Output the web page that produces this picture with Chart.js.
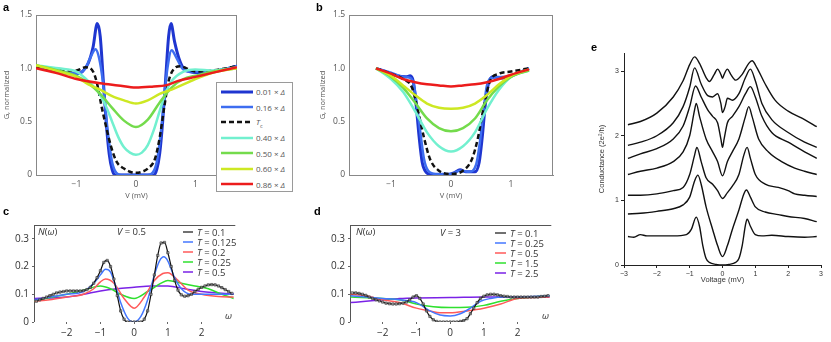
<!DOCTYPE html>
<html>
<head>
<meta charset="UTF-8">
<title>Tunnelling conductance panels</title>
<script src="https://cdn.jsdelivr.net/npm/chart.js@4.4.1/dist/chart.umd.min.js"></script>
<style>
  body { margin: 0; background: #fff; }
  #fig { position: relative; width: 831px; height: 342px; overflow: hidden; font-family: "Open Sans", "Noto Sans", sans-serif; }
  #fig canvas { position: absolute; }
  .tag { position: absolute; font: bold 11px "Liberation Sans", Arial, sans-serif; color: #000; }
  .note { position: absolute; font-size: 9.5px; color: #333; white-space: nowrap; line-height: 10px; }
  .legend { position: absolute; white-space: nowrap; }
  .legend .row { display: flex; align-items: center; }
  .legend svg { flex: none; }
  #legA { left: 216px; top: 82px; width: 75px; height: 107px; border: 1px solid #9a9a9a; background: #fff;
          padding-top: 1px; box-sizing: content-box; font-size: 8px; color: #555; z-index: 2; }
  #legA .row { height: 15.4px; padding-left: 4px; }
  #legA svg { margin-right: 3px; }
  #legC, #legD { font-size: 9.5px; color: #333; }
  #legC .row, #legD .row { height: 10px; }
  #legC svg, #legD svg { margin-right: 4px; }
</style>
</head>
<body>
<div id="fig">
  <canvas id="chartA" width="240" height="200" style="left:0;top:0"></canvas>
  <canvas id="chartB" width="240" height="200" style="left:316px;top:0"></canvas>
  <canvas id="chartC" width="240" height="127" style="left:0;top:215px"></canvas>
  <canvas id="chartD" width="240" height="127" style="left:316px;top:215px"></canvas>
  <canvas id="chartE" width="234" height="244" style="left:595px;top:40px"></canvas>

  <div class="tag" style="left:3px;top:1px">a</div>
  <div class="tag" style="left:316px;top:1px">b</div>
  <div class="tag" style="left:3px;top:205px">c</div>
  <div class="tag" style="left:314px;top:205px">d</div>
  <div class="tag" style="left:591px;top:41px">e</div>

  <div id="legA" class="legend"></div>
  <div id="legC" class="legend" style="left:183px;top:227px"></div>
  <div id="legD" class="legend" style="left:495px;top:228px"></div>

  <div class="note" style="left:38px;top:227px"><i>N</i>(<i>ω</i>)</div>
  <div class="note" style="left:117px;top:227px"><i>V</i> = 0.5</div>
  <div class="note" style="left:225px;top:311px"><i>ω</i></div>
  <div class="note" style="left:356px;top:227px"><i>N</i>(<i>ω</i>)</div>
  <div class="note" style="left:440px;top:228px"><i>V</i> = 3</div>
  <div class="note" style="left:542px;top:311px"><i>ω</i></div>
</div>

<script>
// ---------- panel a : G vs V, first sample ----------
const aLabels = ['0.01 × Δ', '0.16 × Δ', 'T_c', '0.40 × Δ', '0.50 × Δ', '0.60 × Δ', '0.86 × Δ'];
const aV001 = [-1.68,-1.5,-1.3,-1.1,-1.0,-0.9,-0.8,-0.72,-0.65,-0.6,-0.55,-0.5,-0.45,-0.4,-0.35,0,0.3,0.35,0.4,0.45,0.5,0.55,0.59,0.65,0.72,0.8,0.9,1.0,1.2,1.4,1.7];
const aG001 = [1.02,1.0,0.97,0.95,0.95,0.97,1.05,1.2,1.42,1.3,0.9,0.5,0.2,0.05,0.0,0,0,0.05,0.2,0.5,0.9,1.3,1.42,1.25,1.1,1.0,0.97,0.96,0.96,0.98,1.02];
const aV016 = [-1.68,-1.3,-1.0,-0.85,-0.75,-0.68,-0.62,-0.55,-0.5,-0.45,-0.4,-0.33,-0.25,0.2,0.28,0.35,0.42,0.48,0.53,0.6,0.68,0.78,0.9,1.2,1.7];
const aG016 = [1.02,0.97,0.95,1.0,1.12,1.18,1.1,0.85,0.55,0.3,0.12,0.02,0,0,0.02,0.12,0.4,0.75,1.0,1.17,1.1,1.0,0.97,0.97,1.02];
const aVTc = [-1.68,-1.3,-1.0,-0.85,-0.72,-0.65,-0.58,-0.5,-0.42,-0.32,-0.2,-0.1,0,0.1,0.2,0.32,0.4,0.48,0.55,0.65,0.75,0.85,1.0,1.3,1.7];
const aGTc = [1.02,0.98,0.98,1.01,0.97,0.85,0.65,0.45,0.27,0.12,0.06,0.03,0.02,0.03,0.06,0.15,0.35,0.65,0.88,1.0,1.02,1.0,0.97,0.98,1.02];
const aV040 = [-1.68,-1.3,-1.0,-0.8,-0.6,-0.5,-0.4,-0.3,-0.2,-0.1,0,0.1,0.2,0.3,0.4,0.5,0.6,0.8,1.0,1.3,1.7];
const aG040 = [1.03,1.0,0.97,0.88,0.75,0.64,0.5,0.36,0.26,0.21,0.19,0.21,0.28,0.42,0.6,0.77,0.88,0.97,0.99,0.98,1.01];
const aVmid = [-1.68,-1.3,-1.0,-0.8,-0.6,-0.4,-0.2,0,0.2,0.4,0.6,0.8,1.0,1.3,1.7];
const aG050 = [1.03,0.98,0.93,0.86,0.76,0.63,0.51,0.45,0.52,0.68,0.82,0.9,0.93,0.97,1.0];
const aG060 = [1.03,0.97,0.92,0.85,0.8,0.74,0.7,0.67,0.7,0.76,0.8,0.85,0.9,0.96,1.0];
const aV086 = [-1.68,-1.3,-1.0,-0.6,-0.3,0,0.3,0.5,0.7,1.0,1.3,1.7];
const aG086 = [1.0,0.95,0.9,0.86,0.84,0.82,0.83,0.84,0.88,0.92,0.96,1.01];

// ---------- panel b : G vs V, second sample ----------
const bV001 = [-1.25,-1.1,-0.9,-0.75,-0.68,-0.63,-0.58,-0.53,-0.48,-0.42,-0.3,-0.1,0.05,0.15,0.25,0.4,0.47,0.52,0.57,0.62,0.7,0.9,1.1,1.3];
const bG001 = [1.0,0.97,0.93,0.92,0.93,0.88,0.65,0.35,0.12,0.03,0.0,0.0,0.02,0.05,0.03,0.03,0.12,0.35,0.65,0.85,0.92,0.91,0.95,1.0];
const bV016 = [-1.25,-1.0,-0.8,-0.68,-0.62,-0.56,-0.5,-0.45,-0.38,-0.25,0,0.15,0.3,0.42,0.48,0.54,0.6,0.68,0.9,1.1,1.3];
const bG016 = [1.0,0.96,0.92,0.91,0.85,0.62,0.35,0.15,0.04,0.01,0.01,0.04,0.03,0.1,0.3,0.6,0.84,0.91,0.92,0.95,1.0];
const bVTc = [-1.25,-1.0,-0.8,-0.65,-0.55,-0.45,-0.35,-0.2,0,0.2,0.35,0.45,0.55,0.65,0.8,1.0,1.3];
const bGTc = [1.0,0.95,0.9,0.82,0.6,0.35,0.15,0.04,0.01,0.04,0.15,0.35,0.65,0.88,0.95,0.97,1.0];
const bVwarm = [-1.25,-1.0,-0.8,-0.6,-0.4,-0.2,0,0.2,0.4,0.6,0.8,1.0,1.3];
const bG040 = [1.0,0.9,0.78,0.6,0.4,0.27,0.22,0.27,0.4,0.62,0.8,0.92,0.98];
const bG050 = [1.0,0.92,0.82,0.68,0.53,0.44,0.41,0.44,0.53,0.7,0.83,0.92,0.98];
const bG060 = [1.0,0.93,0.84,0.75,0.67,0.63,0.62,0.63,0.67,0.75,0.85,0.93,0.99];
const bG086 = [1.0,0.95,0.9,0.87,0.85,0.84,0.83,0.84,0.85,0.87,0.9,0.94,0.99];

// ---------- panels c, d : N(omega) ----------
const omegaFine = [-2.9,-2.8,-2.7,-2.6,-2.5,-2.4,-2.3,-2.2,-2.1,-2.0,-1.9,-1.8,-1.7,-1.6,-1.5,-1.4,-1.3,-1.2,-1.1,-1.0,
  -0.9,-0.8,-0.7,-0.6,-0.5,-0.4,-0.3,-0.2,-0.1,0,0.1,0.2,0.3,0.4,0.5,0.6,0.7,0.8,0.9,1.0,
  1.1,1.2,1.3,1.4,1.5,1.6,1.7,1.8,1.9,2.0,2.1,2.2,2.3,2.4,2.5,2.6,2.7,2.8,2.9];
const cLabels = ['T = 0.1', 'T = 0.125', 'T = 0.2', 'T = 0.25', 'T = 0.5'];
const cN01 = [0.075,0.08,0.085,0.09,0.095,0.1,0.105,0.108,0.11,0.112,0.112,0.112,0.112,0.112,0.113,0.117,0.125,0.14,0.16,0.185,
  0.215,0.222,0.2,0.155,0.095,0.04,0.01,0,0,0,0,0,0.01,0.04,0.1,0.17,0.24,0.285,0.287,0.25,
  0.2,0.15,0.115,0.098,0.093,0.095,0.1,0.11,0.118,0.125,0.13,0.134,0.135,0.134,0.13,0.124,0.117,0.11,0.103];
const cW0125 = [-2.95,-2.5,-2,-1.5,-1.2,-1.0,-0.85,-0.7,-0.55,-0.4,-0.2,0,0.2,0.4,0.6,0.75,0.88,1.0,1.2,1.4,1.7,2.0,2.5,2.95];
const cN0125 = [0.08,0.09,0.1,0.11,0.14,0.17,0.19,0.18,0.13,0.07,0.015,0.0,0.02,0.08,0.17,0.22,0.235,0.22,0.16,0.12,0.1,0.1,0.1,0.1];
const cW02 = [-2.95,-2.5,-2,-1.5,-1.2,-1.0,-0.85,-0.6,-0.3,0,0.3,0.6,0.85,1.0,1.3,1.6,2,2.5,2.95];
const cN02 = [0.075,0.08,0.09,0.1,0.12,0.145,0.155,0.14,0.085,0.05,0.09,0.15,0.175,0.178,0.15,0.115,0.1,0.092,0.09];
const cW025 = [-2.95,-2.5,-2,-1.5,-1.0,-0.7,-0.4,0,0.4,0.8,1.0,1.4,1.8,2.2,2.6,2.95];
const cN025 = [0.075,0.088,0.1,0.115,0.13,0.12,0.1,0.085,0.11,0.14,0.15,0.14,0.13,0.12,0.1,0.085];
const cW05 = [-2.95,-2,-1.5,-1,-0.5,0,0.5,1,1.5,2,2.5,2.95];
const cN05 = [0.085,0.09,0.1,0.112,0.12,0.125,0.13,0.13,0.12,0.11,0.105,0.1];

const dLabels = ['T = 0.1', 'T = 0.25', 'T = 0.5', 'T = 1.5', 'T = 2.5'];
const dN01 = [0.105,0.105,0.103,0.1,0.096,0.09,0.085,0.08,0.076,0.072,0.068,0.066,0.065,0.065,0.066,0.068,0.072,0.08,0.09,0.095,
  0.085,0.065,0.04,0.02,0.008,0.002,0,0,0,0,0,0,0.002,0.005,0.012,0.03,0.05,0.07,0.085,0.093,
  0.098,0.1,0.1,0.098,0.095,0.093,0.092,0.09,0.09,0.09,0.09,0.09,0.09,0.09,0.09,0.09,0.092,0.093,0.095];
const dW025 = [-2.95,-2.5,-2,-1.5,-1.0,-0.6,-0.3,0,0.3,0.6,0.9,1.2,1.6,2,2.95];
const dN025 = [0.095,0.09,0.085,0.08,0.07,0.04,0.025,0.022,0.03,0.05,0.075,0.085,0.09,0.09,0.095];
const dW05 = [-2.95,-2.5,-2,-1.5,-1,-0.6,-0.3,0,0.5,1,1.5,2,2.95];
const dN05 = [0.1,0.095,0.08,0.07,0.05,0.04,0.033,0.033,0.04,0.05,0.065,0.085,0.09];
const dW15 = [-2.95,-2,-1.5,-1,-0.5,0,0.5,1,1.5,2,2.95];
const dN15 = [0.09,0.085,0.08,0.065,0.055,0.052,0.053,0.06,0.075,0.085,0.095];
const dW25 = [-2.95,-2.5,-2,-1.5,-1,0,1,2,2.95];
const dN25 = [0.07,0.075,0.08,0.085,0.087,0.088,0.09,0.09,0.09];

// ---------- panel e : conductance traces (offset) ----------
const eV1 = [-2.88,-2.7,-2.5,-2.3,-2.0,-1.5,-1.1,-0.95,-0.8,-0.7,-0.6,-0.5,-0.4,-0.2,0,0.2,0.4,0.5,0.6,0.7,0.75,0.85,1.0,1.2,1.5,2.0,2.5,2.87];
const eG1 = [0.44,0.43,0.47,0.45,0.45,0.45,0.47,0.55,0.74,0.6,0.3,0.1,0.04,0.01,0.0,0.01,0.04,0.1,0.3,0.62,0.71,0.6,0.47,0.45,0.46,0.44,0.43,0.44];
const eV2 = [-2.88,-2.5,-2.0,-1.5,-1.2,-1.0,-0.85,-0.75,-0.65,-0.5,-0.3,-0.15,0,0.15,0.3,0.5,0.65,0.73,0.85,1.0,1.3,1.7,2.0,2.5,2.87];
const eG2 = [0.79,0.8,0.83,0.87,0.93,1.05,1.3,1.39,1.25,0.9,0.55,0.3,0.13,0.3,0.55,0.85,1.1,1.16,1.05,0.9,0.82,0.78,0.75,0.72,0.67];
const eV3 = [-2.88,-2.5,-2.0,-1.5,-1.2,-1.0,-0.85,-0.78,-0.65,-0.5,-0.3,-0.15,0,0.15,0.3,0.5,0.65,0.75,0.85,1.0,1.3,1.7,2.0,2.2,2.5,2.87];
const eG3 = [1.08,1.08,1.1,1.15,1.2,1.4,1.7,1.82,1.6,1.35,1.25,1.15,1.03,1.12,1.22,1.4,1.7,1.82,1.65,1.4,1.25,1.2,1.15,1.1,1.08,1.06];
const eV4 = [-2.88,-2.5,-2.0,-1.5,-1.2,-1.0,-0.85,-0.8,-0.7,-0.5,-0.3,-0.15,0,0.15,0.3,0.5,0.7,0.8,0.9,1.1,1.4,1.8,2.2,2.5,2.87];
const eG4 = [1.4,1.45,1.5,1.6,1.75,2.0,2.4,2.5,2.3,1.95,1.75,1.6,1.38,1.6,1.75,1.95,2.3,2.45,2.3,1.95,1.75,1.6,1.5,1.45,1.4];
const eV5 = [-2.88,-2.5,-2.0,-1.5,-1.2,-1.0,-0.82,-0.65,-0.45,-0.3,-0.15,-0.05,0,0.05,0.15,0.3,0.5,0.7,0.85,1.0,1.2,1.5,2.0,2.5,2.87];
const eG5 = [1.65,1.72,1.8,1.95,2.15,2.45,2.77,2.6,2.4,2.3,2.2,1.95,1.82,1.95,2.2,2.3,2.45,2.65,2.76,2.6,2.3,2.05,1.9,1.75,1.65];
const eV6 = [-2.88,-2.5,-2.0,-1.5,-1.2,-1.0,-0.85,-0.65,-0.45,-0.3,-0.15,-0.05,0,0.08,0.15,0.3,0.5,0.7,0.85,1.0,1.2,1.5,2.0,2.5,2.87];
const eG6 = [1.85,1.9,2.0,2.2,2.45,2.75,3.05,2.8,2.62,2.6,2.65,2.5,2.36,2.45,2.58,2.55,2.65,2.9,3.03,2.85,2.5,2.25,2.05,1.9,1.82];
const eV7 = [-2.88,-2.5,-2.0,-1.5,-1.2,-1.0,-0.85,-0.7,-0.5,-0.4,-0.25,-0.15,-0.05,0,0.05,0.15,0.25,0.4,0.6,0.8,0.9,1.05,1.3,1.6,2.0,2.5,2.87];
const eG7 = [2.17,2.22,2.35,2.6,2.85,3.1,3.22,3.12,2.9,2.84,2.95,3.03,2.95,2.89,2.95,3.03,2.95,2.86,2.95,3.12,3.16,3.05,2.8,2.55,2.38,2.25,2.14];

// tick values
const gTicks = [0, 0.5, 1.0, 1.5];
const mvTicks = [-1, 0, 1];
const nTicks = [0, 0.1, 0.2, 0.3];
const omegaTicks = [-2, -1, 0, 1, 2];
const eYTicks = [0, 1, 2, 3];
const eXTicks = [-3, -2, -1, 0, 1, 2, 3];

const pts = (xs, ys) => xs.map((x, i) => ({ x: x, y: ys[i] }));
const minus = v => (v < 0 ? '\u2212' + Math.abs(v) : String(v));

// draws box sides round the plot area
const framePlugin = {
  id: 'frame',
  beforeDatasetsDraw(chart, args, opts) {
    const { ctx, chartArea: c } = chart;
    const s = opts.sides || '';
    ctx.save();
    ctx.strokeStyle = opts.color || '#888';
    ctx.lineWidth = 1;
    ctx.beginPath();
    if (s.includes('t')) { ctx.moveTo(c.left, c.top + 0.5); ctx.lineTo(c.right, c.top + 0.5); }
    if (s.includes('r')) { ctx.moveTo(c.right - 0.5, c.top); ctx.lineTo(c.right - 0.5, c.bottom); }
    if (s.includes('b')) { ctx.moveTo(c.left, c.bottom - 0.5); ctx.lineTo(c.right, c.bottom - 0.5); }
    if (s.includes('l')) { ctx.moveTo(c.left + 0.5, c.top); ctx.lineTo(c.left + 0.5, c.bottom); }
    ctx.stroke();
    ctx.restore();
  }
};

function line(label, data, color, width, order, extra) {
  return Object.assign({
    label: label, data: data, borderColor: color, backgroundColor: color,
    borderWidth: width, pointRadius: 0, order: order,
    cubicInterpolationMode: 'monotone', fill: false
  }, extra || {});
}

function makeChart(id, datasets, o) {
  return new Chart(document.getElementById(id), {
    type: 'line',
    data: { datasets: datasets },
    plugins: [framePlugin],
    options: {
      responsive: false, animation: false, parsing: true,
      layout: { padding: { top: o.padTop, right: o.padRight, left: 0, bottom: 0 } },
      plugins: { legend: { display: false }, tooltip: { enabled: false }, frame: { sides: o.sides, color: o.frameColor } },
      scales: {
        x: {
          type: 'linear', min: o.xMin, max: o.xMax,
          afterFit: s => { s.height = o.xHeight; },
          afterBuildTicks: s => { s.ticks = o.xTicks.map(v => ({ value: v })); },
          grid: { display: true, drawOnChartArea: false, drawTicks: o.tickLen > 0, tickLength: o.tickLen, color: o.tickColor },
          border: { display: o.axisBorder, color: o.tickColor, width: 1 },
          ticks: { font: { size: o.tickSize, family: o.family }, color: o.textColor, padding: o.tickPad, maxRotation: 0,
                   callback: v => minus(v) },
          title: { display: !!o.xTitle, text: o.xTitle, font: { size: o.titleSize, family: o.family }, color: o.textColor, padding: 0 }
        },
        y: {
          type: 'linear', min: o.yMin, max: o.yMax,
          afterFit: s => { s.width = o.yWidth; },
          afterBuildTicks: s => { s.ticks = o.yTicks.map(v => ({ value: v })); },
          grid: { display: true, drawOnChartArea: false, drawTicks: o.tickLen > 0, tickLength: o.tickLen, color: o.tickColor },
          border: { display: o.axisBorder, color: o.tickColor, width: 1 },
          ticks: { font: { size: o.tickSize, family: o.family }, color: o.textColor, padding: o.tickPad,
                   callback: o.yFormat },
          title: { display: !!o.yTitle, text: o.yTitle, font: { size: o.titleSize, family: o.family }, color: o.textColor, padding: { top: 2, bottom: 0 } }
        }
      }
    }
  });
}

// ---- colours ----
const gapColors = ['#1f36d0', '#3d6df0', '#111111', '#72f0cf', '#74db4c', '#cde823', '#ec1c1c'];
const gapWidths = [3, 2.5, 2.5, 2.5, 2.5, 2.5, 2.5];
const gapOrder = [6, 5, 4, 3, 2, 1, 0];
const tColors = ['#111111', '#4477ff', '#ff5a5a', '#2fe02f', '#7a22e6'];

function gapSets(series) {
  return series.map((d, i) => line(aLabels[i], d, gapColors[i], gapWidths[i], gapOrder[i],
    i === 2 ? { borderDash: [5, 3] } : null));
}

const abOpts = {
  xMin: -1.70, xMax: 1.70, yMin: 0, yMax: 1.5, xTicks: mvTicks, yTicks: gTicks,
  padTop: 15, padRight: 3, xHeight: 25, tickLen: 0, tickPad: 4, tickSize: 8.5, titleSize: 7.5,
  family: '"Open Sans", sans-serif', textColor: '#555', tickColor: '#888', axisBorder: true,
  sides: 'tr', frameColor: '#888', xTitle: 'V (mV)', yTitle: 'G, normalized',
  yFormat: v => (v === 0 ? '0' : v.toFixed(1))
};

const chartA = makeChart('chartA', gapSets([
  pts(aV001, aG001), pts(aV016, aG016), pts(aVTc, aGTc), pts(aV040, aG040),
  pts(aVmid, aG050), pts(aVmid, aG060), pts(aV086, aG086)
]), Object.assign({}, abOpts, { xMin: -1.68, yWidth: 36 }));

makeChart('chartB', gapSets([
  pts(bV001, bG001), pts(bV016, bG016), pts(bVTc, bGTc), pts(bVwarm, bG040),
  pts(bVwarm, bG050), pts(bVwarm, bG060), pts(bVwarm, bG086)
]), Object.assign({}, abOpts, { yWidth: 33 }));

const cdOpts = {
  xMin: -2.97, xMax: 3.0, yMin: 0, yMax: 0.35, xTicks: omegaTicks, yTicks: nTicks,
  padTop: 10, padRight: 3, xHeight: 20, yWidth: 34, tickLen: 2, tickPad: 3, tickSize: 10, titleSize: 9,
  family: '"Open Sans", sans-serif', textColor: '#333', tickColor: '#666', axisBorder: false,
  sides: 'tl', frameColor: '#555', xTitle: '', yTitle: '',
  yFormat: v => (v === 0 ? '0' : v.toFixed(1))
};
const markerStyle = { pointRadius: 1.6, pointStyle: 'rect', pointBorderColor: '#333', pointBackgroundColor: 'rgba(255,255,255,0.4)', pointBorderWidth: 0.7 };

function tSets(labels, series) {
  return series.map((d, i) => line(labels[i], d, tColors[i], i === 0 ? 1.2 : 1.5, i,
    i === 0 ? markerStyle : null));
}

const chartC = makeChart('chartC', tSets(cLabels, [
  pts(omegaFine, cN01), pts(cW0125, cN0125), pts(cW02, cN02), pts(cW025, cN025), pts(cW05, cN05)
]), cdOpts);

const chartD = makeChart('chartD', tSets(dLabels, [
  pts(omegaFine, dN01), pts(dW025, dN025), pts(dW05, dN05), pts(dW15, dN15), pts(dW25, dN25)
]), Object.assign({}, cdOpts, { yWidth: 34 }));

const eSeries = [pts(eV1, eG1), pts(eV2, eG2), pts(eV3, eG3), pts(eV4, eG4), pts(eV5, eG5), pts(eV6, eG6), pts(eV7, eG7)];
makeChart('chartE', eSeries.map((d, i) => line('trace ' + (i + 1), d, '#111', 1.4, i)), {
  xMin: -3, xMax: 3, yMin: 0, yMax: 3.28, xTicks: eXTicks, yTicks: eYTicks,
  padTop: 13, padRight: 8, xHeight: 19, yWidth: 29, tickLen: 3, tickPad: 2, tickSize: 7, titleSize: 7.5,
  family: '"Liberation Sans", Arial, sans-serif', textColor: '#333', tickColor: '#222', axisBorder: true,
  sides: '', xTitle: 'Voltage (mV)', yTitle: 'Conductance (2e\u00b2/h)',
  yFormat: v => String(v)
});

// HTML legends built from the chart datasets
function fmt(label) {
  return label.replace('T_c', '<i>T</i><sub style="font-size:70%">c</sub>')
              .replace('T =', '<i>T</i> =')
              .replace('Δ', '<i>Δ</i>');
}
function htmlLegend(chart, elId, swW, swH) {
  const box = document.getElementById(elId);
  chart.data.datasets.forEach(ds => {
    const row = document.createElement('div');
    row.className = 'row';
    const dash = ds.borderDash ? ` stroke-dasharray="${ds.borderDash.join(',')}"` : '';
    row.innerHTML = `<svg width="${swW}" height="${swH}"><line x1="0" y1="${swH / 2}" x2="${swW}" y2="${swH / 2}" stroke="${ds.borderColor}" stroke-width="${ds.borderWidth}"${dash}/></svg><span>${fmt(ds.label)}</span>`;
    box.appendChild(row);
  });
}
htmlLegend(chartA, 'legA', 32, 6);
htmlLegend(chartC, 'legC', 10, 4);
htmlLegend(chartD, 'legD', 11, 4);
</script>
</body>
</html>
